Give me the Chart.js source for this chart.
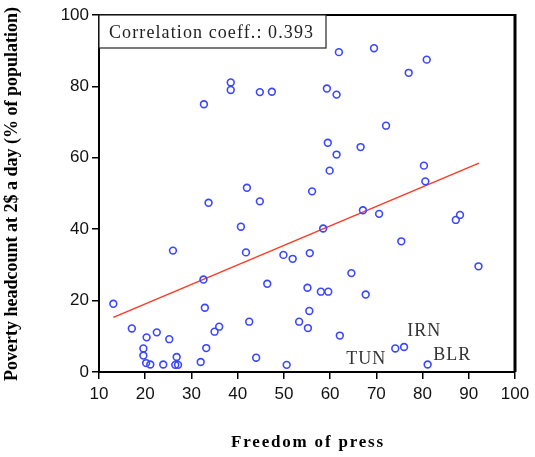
<!DOCTYPE html>
<html>
<head>
<meta charset="utf-8">
<script src="https://cdn.jsdelivr.net/npm/chart.js@4"></script>
<style>
  html, body { margin: 0; padding: 0; background: #fff; }
  #wrap { width: 535px; height: 457px; position: relative; }
</style>
</head>
<body>
<div id="wrap"><canvas id="chart"></canvas></div>
<script>
// Freedom of press (x) vs poverty headcount at 2$ a day (y)
const pressScore = [
  32.7, 38.5, 38.5, 44.8, 47.4, 42.0, 61.9, 69.5, 80.9, 77.0,
  59.3, 61.4, 72.1, 59.5, 66.6, 61.4, 59.9, 80.3, 80.6, 56.1,
  13.1, 17.1, 20.3, 22.5, 19.6, 19.6, 20.2, 21.1, 23.9, 25.2,
  26.8, 26.5, 27.1, 26.0, 32.6, 32.9, 33.2, 32.0, 35.0, 36.0,
  33.7, 44.8, 40.7, 41.8, 46.4, 42.5, 44.0, 50.6, 49.9, 51.9,
  55.6, 55.1, 55.5, 53.3, 55.2, 58.5, 67.1, 70.6, 87.2, 88.1,
  75.4, 92.1, 64.6, 58.0, 59.6, 67.7, 62.1, 74.1, 76.0, 81.1
];
const povertyPct = [
  75.0, 81.1, 79.0, 78.4, 78.5, 51.6, 89.6, 90.7, 87.5, 83.8,
  79.4, 77.7, 69.0, 64.2, 63.0, 60.9, 56.4, 57.8, 53.4, 50.6,
  19.1, 12.2, 9.7, 11.1, 6.6, 4.6, 2.5, 2.1, 2.1, 9.2,
  4.2, 2.0, 2.0, 34.0, 25.9, 18.0, 6.7, 2.8, 11.3, 12.7,
  47.4, 47.8, 40.7, 33.5, 24.7, 14.1, 4.0, 2.0, 32.8, 31.7,
  33.3, 23.6, 17.1, 14.1, 12.3, 40.2, 45.3, 44.3, 42.6, 44.0,
  36.6, 29.6, 27.7, 22.5, 22.5, 21.7, 10.2, 6.6, 7.0, 2.1
];

// fitted line end points
const fitX = [13.1, 92.2];
const fitY = [15.3, 58.5];

// country labels
const labelText = ['IRN', 'TUN', 'BLR'];
const labelX = [76.7, 63.5, 82.3];
const labelY = [11.4, 3.6, 4.7];

const corrText = 'Correlation coeff.: 0.393';
const xTitle = 'Freedom of press';
const yTitle = 'Poverty headcount at 2$ a day (% of population)';

const points = pressScore.map((x, i) => ({ x: x, y: povertyPct[i] }));
const fitLine = fitX.map((x, i) => ({ x: x, y: fitY[i] }));

const extras = {
  id: 'extras',
  afterDraw(chart) {
    const ctx = chart.ctx;
    const a = chart.chartArea;
    const xs = chart.scales.x, ys = chart.scales.y;
    ctx.save();

    // top and right frame
    ctx.strokeStyle = '#000';
    ctx.lineWidth = 2;
    ctx.beginPath();
    ctx.moveTo(a.left, a.top);
    ctx.lineTo(a.right, a.top);
    ctx.stroke();
    ctx.lineWidth = 3;
    ctx.beginPath();
    ctx.moveTo(a.right, a.top - 1);
    ctx.lineTo(a.right, a.bottom);
    ctx.stroke();

    // correlation box
    ctx.lineWidth = 1.2;
    ctx.strokeStyle = '#222';
    ctx.fillStyle = '#fff';
    ctx.fillRect(a.left, a.top, 227, 33);
    ctx.strokeRect(a.left, a.top, 227, 33);
    ctx.fillStyle = '#222';
    ctx.font = '18px "Liberation Serif"';
    ctx.letterSpacing = '1.1px';
    ctx.textAlign = 'left';
    ctx.textBaseline = 'middle';
    ctx.fillText(corrText, a.left + 10, a.top + 18);

    // country labels
    ctx.fillStyle = '#333';
    ctx.font = '18px "Liberation Serif"';
    ctx.letterSpacing = '1px';
    labelText.forEach((t, i) => {
      ctx.fillText(t, xs.getPixelForValue(labelX[i]), ys.getPixelForValue(labelY[i]));
    });

    // axis titles
    ctx.fillStyle = '#000';
    ctx.font = 'bold 17px "Liberation Serif"';
    ctx.letterSpacing = '1.8px';
    ctx.textAlign = 'center';
    ctx.fillText(xTitle, 308, 443);
    ctx.font = 'bold 18px "Liberation Serif"';
    ctx.letterSpacing = '0px';
    ctx.translate(12, 194);
    ctx.rotate(-Math.PI / 2);
    ctx.fillText(yTitle, 0, 0);
    ctx.restore();
  }
};

new Chart(document.getElementById('chart'), {
  type: 'scatter',
  data: {
    datasets: [
      {
        data: points,
        showLine: false,
        pointStyle: 'circle',
        pointRadius: 3.4,
        pointBorderWidth: 1.6,
        pointBorderColor: '#3a46ff',
        pointBackgroundColor: 'rgba(0,0,0,0)',
      },
      {
        data: fitLine,
        showLine: true,
        borderColor: '#ff3a24',
        borderWidth: 1.5,
        pointRadius: 0,
        fill: false,
      },
    ]
  },
  options: {
    responsive: true,
    maintainAspectRatio: false,
    animation: false,
    layout: { padding: { top: 15, right: 20, left: 0, bottom: 0 } },
    plugins: {
      legend: { display: false },
      tooltip: { enabled: false },
    },
    scales: {
      x: {
        type: 'linear',
        min: 10,
        max: 100,
        ticks: {
          stepSize: 10,
          color: '#111',
          padding: 5,
          font: { family: '"Liberation Sans"', size: 17 },
        },
        grid: { drawOnChartArea: false, drawTicks: true, tickLength: 7, color: '#000', lineWidth: 1.5 },
        border: { display: true, color: '#000', width: 2 },
        afterFit(scale) { scale.height = 85; },
      },
      y: {
        type: 'linear',
        min: 0,
        max: 100,
        ticks: {
          stepSize: 20,
          color: '#111',
          padding: 3,
          font: { family: '"Liberation Sans"', size: 17 },
        },
        grid: { drawOnChartArea: false, drawTicks: true, tickLength: 7, color: '#000', lineWidth: 1.5 },
        border: { display: true, color: '#000', width: 2 },
        afterFit(scale) { scale.width = 99; },
      },
    },
  },
  plugins: [extras],
});
</script>
</body>
</html>
